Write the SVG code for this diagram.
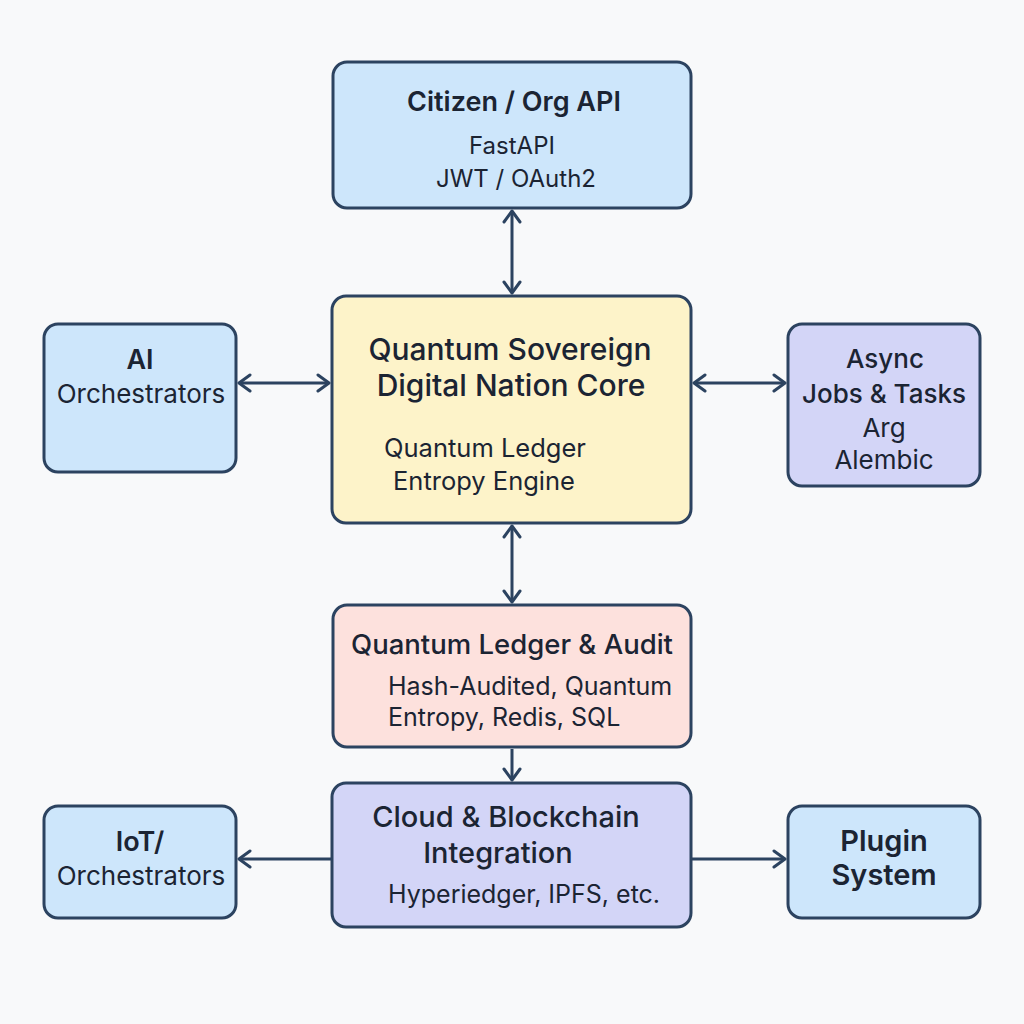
<svg xmlns="http://www.w3.org/2000/svg" width="1024" height="1024" viewBox="0 0 1024 1024">
<defs>
<style>
.box{stroke:#2c4360;stroke-width:3;}
.blue{fill:#cde6fb;}
.yellow{fill:#fdf3c9;}
.pink{fill:#fde1dd;}
.violet{fill:#d3d5f7;}
text{font-family:Inter,"Open Sans","Liberation Sans",sans-serif;fill:#1b2433;}
.t{font-weight:600;font-size:27px;text-anchor:middle;}
.m{font-weight:500;}
.s{font-weight:400;font-size:25px;}
.c{text-anchor:middle;}
.conn{stroke:#2c4360;stroke-width:3;fill:none;}
</style>
<marker id="ah" viewBox="0 0 20 20" refX="17" refY="10" markerWidth="20" markerHeight="20" markerUnits="userSpaceOnUse" orient="auto-start-reverse">
<path d="M6 2 L17 10 L6 18" fill="none" stroke="#2c4360" stroke-width="3" stroke-linecap="round" stroke-linejoin="round"/>
</marker>
</defs>
<rect width="1024" height="1024" fill="#f8f9fa"/>
<g id="connectors">
<line class="conn" x1="512" y1="211" x2="512" y2="293" marker-start="url(#ah)" marker-end="url(#ah)"/>
<line class="conn" x1="239" y1="383" x2="329" y2="383" marker-start="url(#ah)" marker-end="url(#ah)"/>
<line class="conn" x1="694" y1="383" x2="785" y2="383" marker-start="url(#ah)" marker-end="url(#ah)"/>
<line class="conn" x1="512" y1="526" x2="512" y2="602" marker-start="url(#ah)" marker-end="url(#ah)"/>
<line class="conn" x1="512" y1="749" x2="512" y2="780" marker-end="url(#ah)"/>
<line class="conn" x1="331" y1="859" x2="239" y2="859" marker-end="url(#ah)"/>
<line class="conn" x1="692" y1="859" x2="785" y2="859" marker-end="url(#ah)"/>
</g>
<g id="citizen-api">
<rect class="box blue" x="333" y="62" width="358" height="146" rx="14"/>
<text class="t" x="514" y="111">Citizen / Org API</text>
<text class="s c" x="512" y="154" style="font-size:24px">FastAPI</text>
<text class="s c" x="516" y="187" style="font-size:24px">JWT / OAuth2</text>
</g>
<g id="core">
<rect class="box yellow" x="332" y="296" width="359" height="227" rx="14"/>
<text class="t m" x="510" y="360" style="font-size:30px">Quantum Sovereign</text>
<text class="t m" x="511" y="396" style="font-size:30px">Digital Nation Core</text>
<text class="s" x="384" y="457" style="font-size:25.5px">Quantum Ledger</text>
<text class="s" x="393" y="490" style="font-size:25.5px">Entropy Engine</text>
</g>
<g id="ai-orchestrators">
<rect class="box blue" x="44" y="324" width="192" height="148" rx="14"/>
<text class="t" x="140" y="369">AI</text>
<text class="s c" x="141" y="403" style="font-size:26px">Orchestrators</text>
</g>
<g id="async-jobs">
<rect class="box violet" x="788" y="324" width="192" height="162" rx="14"/>
<text class="t m" x="885" y="368" style="font-size:26px">Async</text>
<text class="t m" x="884" y="403" style="font-size:26px">Jobs &amp; Tasks</text>
<text class="s c" x="884" y="437" style="font-size:26px">Arg</text>
<text class="s c" x="884" y="469" style="font-size:26px">Alembic</text>
</g>
<g id="ledger-audit">
<rect class="box pink" x="333" y="605" width="358" height="142" rx="14"/>
<text class="t m" x="512" y="654" style="font-size:27.5px">Quantum Ledger &amp; Audit</text>
<text class="s" x="388" y="695">Hash-Audited, Quantum</text>
<text class="s" x="388" y="726">Entropy, Redis, SQL</text>
</g>
<g id="cloud-blockchain">
<rect class="box violet" x="332" y="783" width="359" height="144" rx="14"/>
<text class="t m" x="506" y="827" style="font-size:29px">Cloud &amp; Blockchain</text>
<text class="t m" x="498" y="863" style="font-size:29px">Integration</text>
<text class="s" x="388" y="903">Hyperiedger, IPFS, etc.</text>
</g>
<g id="iot-orchestrators">
<rect class="box blue" x="44" y="806" width="192" height="112" rx="14"/>
<text class="t" x="140" y="851">IoT/</text>
<text class="s c" x="141" y="885" style="font-size:26px">Orchestrators</text>
</g>
<g id="plugin-system">
<rect class="box blue" x="788" y="806" width="192" height="112" rx="14"/>
<text class="t" x="884" y="851" style="font-size:29px">Plugin</text>
<text class="t" x="884" y="885" style="font-size:29px">System</text>
</g>
</svg>
